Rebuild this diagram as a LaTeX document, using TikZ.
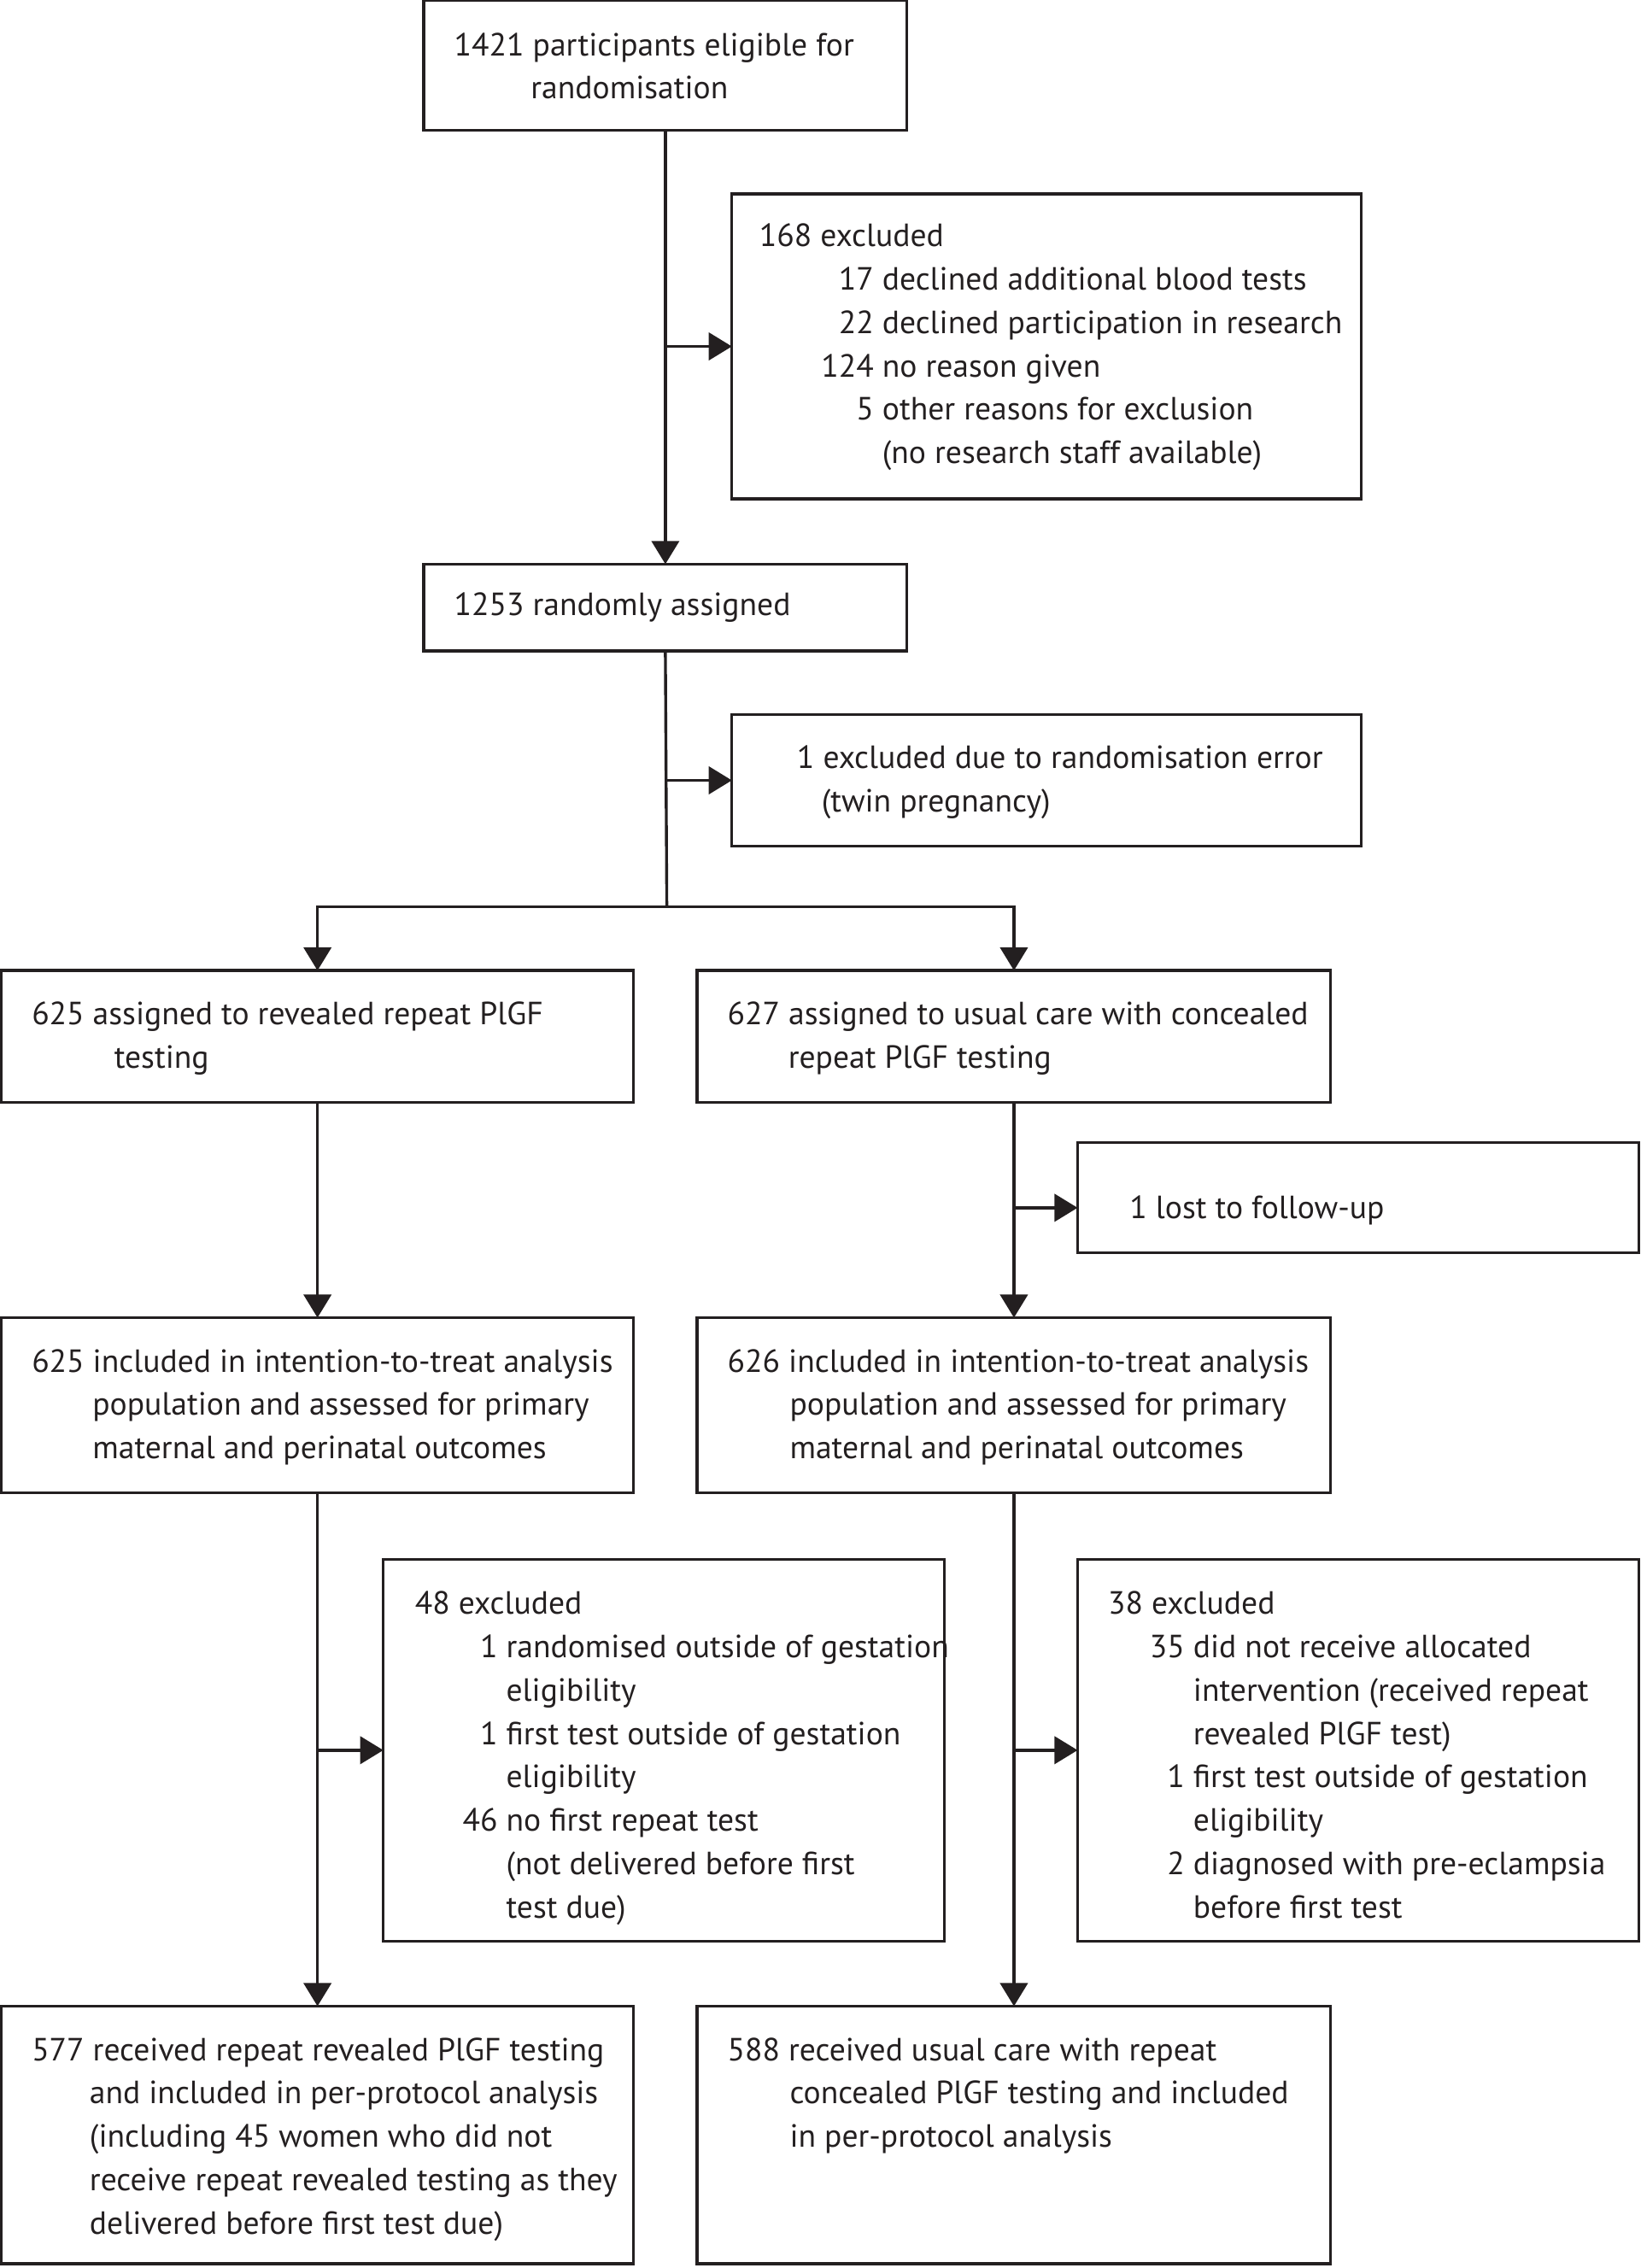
\documentclass[tikz,border=0pt]{standalone}
\usepackage{fontspec}
\setmainfont{PT Sans}
\usetikzlibrary{arrows.meta}
\definecolor{ink}{HTML}{231F20}
\tikzset{
  box/.style={draw=ink, line width=2pt, inner sep=0pt, outer sep=0pt, anchor=north west},
  txt/.style={inner sep=0pt, outer sep=0pt, anchor=base west, text=ink, font=\fontsize{22.2}{30}\selectfont},
  conn/.style={draw=ink, line width=2pt},
  arr/.style={conn, -{Triangle[length=16pt,width=19pt]}}
}
\newcommand\mk[3]{\makebox[#1][r]{#2 }#3}
\begin{document}
\begin{tikzpicture}[x=1pt,y=-1pt]
\useasboundingbox (0,0) rectangle (1134,1568);
% boxes
\node[box, minimum width=334pt, minimum height=90pt] (b1) at (293,0) {};
\node[box, minimum width=435pt, minimum height=211pt] (ex1) at (506,134) {};
\node[box, minimum width=334pt, minimum height=60pt] (b2) at (293,390) {};
\node[box, minimum width=435pt, minimum height=91pt] (ex2) at (506,494) {};
\node[box, minimum width=437pt, minimum height=91pt] (L1) at (1,671) {};
\node[box, minimum width=438pt, minimum height=91pt] (R1) at (482,671) {};
\node[box, minimum width=388pt, minimum height=76pt] (lost) at (745,790) {};
\node[box, minimum width=437pt, minimum height=121pt] (L2) at (1,911) {};
\node[box, minimum width=438pt, minimum height=121pt] (R2) at (482,911) {};
\node[box, minimum width=388pt, minimum height=264pt] (exL) at (265,1078) {};
\node[box, minimum width=388pt, minimum height=264pt] (exR) at (745,1078) {};
\node[box, minimum width=437pt, minimum height=178pt] (L3) at (1,1387) {};
\node[box, minimum width=438pt, minimum height=178pt] (R3) at (482,1387) {};
% texts
\node[txt] (t1) at (314,38.5) {\begin{tabular}[t]{@{}l@{}}1421 participants eligible for\\\hspace*{53pt}randomisation\end{tabular}};
\node[txt] (tex1) at (525,170.5) {\begin{tabular}[t]{@{}l@{}}168 excluded\\
\mk{85pt}{17}{declined additional blood tests}\\
\mk{85pt}{22}{declined participation in research}\\
\mk{85pt}{124}{no reason given}\\
\mk{85pt}{5}{other reasons for exclusion}\\
\hspace*{85pt}(no research staff available)\end{tabular}};
\node[txt] (t2) at (314,425.5) {1253 randomly assigned};
\node[txt] (tex2) at (551,531.5) {\begin{tabular}[t]{@{}l@{}}1 excluded due to randomisation error\\\hspace*{17pt}(twin pregnancy)\end{tabular}};
\node[txt] (tL1) at (22,708.5) {\begin{tabular}[t]{@{}l@{}}625 assigned to revealed repeat PlGF\\\hspace*{57pt}testing\end{tabular}};
\node[txt] (tR1) at (503,708.5) {\begin{tabular}[t]{@{}l@{}}627 assigned to usual care with concealed\\\hspace*{42pt}repeat PlGF testing\end{tabular}};
\node[txt] (tlost) at (781,842.5) {1 lost to follow-up};
\node[txt] (tL2) at (22,948.5) {\begin{tabular}[t]{@{}l@{}}625 included in intention-to-treat analysis\\\hspace*{42pt}population and assessed for primary\\\hspace*{42pt}maternal and perinatal outcomes\end{tabular}};
\node[txt] (tR2) at (503,948.5) {\begin{tabular}[t]{@{}l@{}}626 included in intention-to-treat analysis\\\hspace*{43pt}population and assessed for primary\\\hspace*{43pt}maternal and perinatal outcomes\end{tabular}};
\node[txt] (texL) at (287,1116) {\begin{tabular}[t]{@{}l@{}}48 excluded\\
\mk{63pt}{1}{randomised outside of gestation}\\
\hspace*{63pt}eligibility\\
\mk{63pt}{1}{first test outside of gestation}\\
\hspace*{63pt}eligibility\\
\mk{63pt}{46}{no first repeat test}\\
\hspace*{63pt}(not delivered before first\\
\hspace*{63pt}test due)\end{tabular}};
\node[txt] (texR) at (766,1116) {\begin{tabular}[t]{@{}l@{}}38 excluded\\
\mk{59pt}{35}{did not receive allocated}\\
\hspace*{59pt}intervention (received repeat\\
\hspace*{59pt}revealed PlGF test)\\
\mk{59pt}{1}{first test outside of gestation}\\
\hspace*{59pt}eligibility\\
\mk{59pt}{2}{diagnosed with pre-eclampsia}\\
\hspace*{59pt}before first test\end{tabular}};
\node[txt] (tL3) at (22,1424.5) {\begin{tabular}[t]{@{}l@{}}577 received repeat revealed PlGF testing\\\hspace*{40pt}and included in per-protocol analysis\\\hspace*{40pt}(including 45 women who did not\\\hspace*{40pt}receive repeat revealed testing as they\\\hspace*{40pt}delivered before first test due)\end{tabular}};
\node[txt] (tR3) at (503,1424.5) {\begin{tabular}[t]{@{}l@{}}588 received usual care with repeat\\\hspace*{43pt}concealed PlGF testing and included\\\hspace*{43pt}in per-protocol analysis\end{tabular}};
% connectors
\draw[arr] (b1.south) -- (b2.north);
\coordinate (j1) at (b1.south |- ex1.west);
\draw[arr] (j1) -- (ex1.west);
\coordinate (br) at (461,627);
\draw[conn] (b2.south) -- (br);
\coordinate (j2) at (b2.south |- ex2.west);
\draw[arr] (j2) -- (ex2.west);
\draw[arr] (br) -| (L1.north);
\draw[arr] (br) -| (R1.north);
\draw[arr] (L1.south) -- (L2.north);
\draw[arr] (R1.south) -- (R2.north);
\coordinate (j3) at (701,835);
\draw[arr] (j3) -- (lost.west |- j3);
\draw[arr] (L2.south) -- (L3.north);
\draw[arr] (R2.south) -- (R3.north);
\coordinate (j4) at (L2.south |- exL.west);
\draw[arr] (j4) -- (exL.west);
\coordinate (j5) at (R2.south |- exR.west);
\draw[arr] (j5) -- (exR.west);
\end{tikzpicture}
\end{document}
